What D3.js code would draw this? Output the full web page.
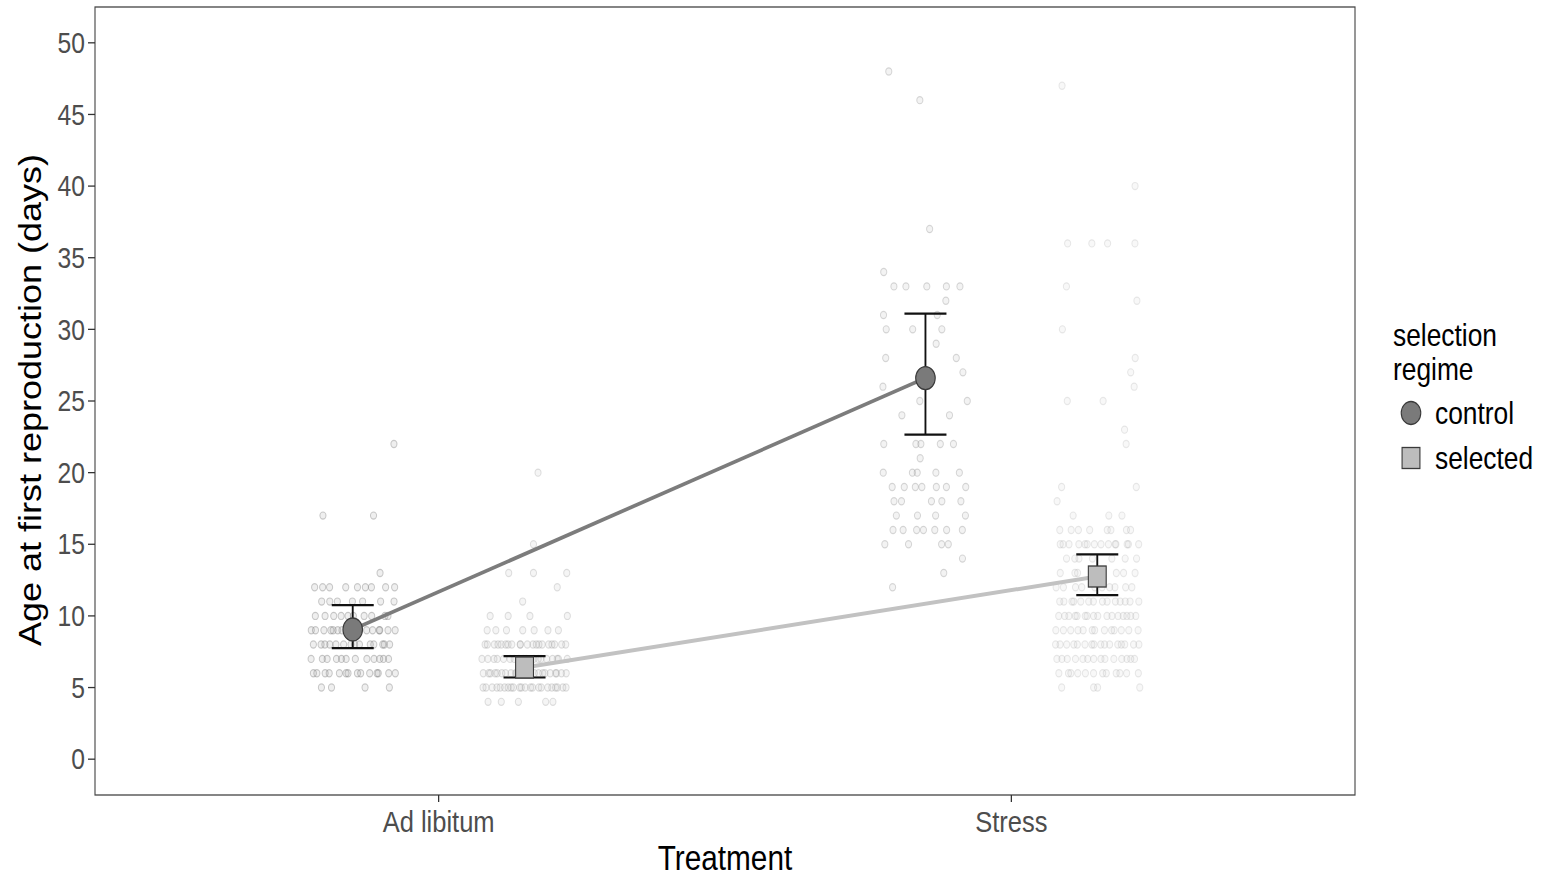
<!DOCTYPE html>
<html><head><meta charset="utf-8">
<script src="https://cdn.jsdelivr.net/npm/d3@7"></script>
<style>html,body{margin:0;padding:0;background:#fff}</style>
</head><body>
<svg id="chart" width="1543" height="879"></svg>
<script>
// ---------- data ----------
const treatments = ["Ad libitum", "Stress"];
const regimes = ["control", "selected"];
const yTicks = [0, 5, 10, 15, 20, 25, 30, 35, 40, 45, 50];

const meanControl = [9.05, 26.6];
const lowControl = [7.75, 22.65];
const highControl = [10.75, 31.1];
const meanSelected = [6.4, 12.75];
const lowSelected = [5.7, 11.45];
const highSelected = [7.2, 14.3];

// raw observations (days), [value, count]
const rawControlAdLib = [[22,1],[17,2],[13,1],[12,9],[11,7],[10,10],[9,16],[8,14],[7,12],[6,14],[5,4]];
const rawSelectedAdLib = [[20,1],[15,1],[13,3],[12,1],[11,1],[10,4],[9,7],[8,20],[7,18],[6,22],[5,22],[4,5]];
const rawControlStress = [[48,1],[46,1],[37,1],[34,1],[33,5],[32,1],[31,2],[30,3],[29,1],[28,2],[27,1],[26,1],[25,2],[24,2],[22,5],[21,1],[20,5],[19,7],[18,5],[17,4],[16,7],[15,4],[14,1],[13,1],[12,1]];
const rawSelectedStress = [[47,1],[40,1],[36,4],[33,1],[32,1],[30,1],[28,1],[27,1],[26,1],[25,2],[23,1],[22,1],[19,2],[18,1],[17,3],[16,8],[15,14],[14,7],[13,8],[12,10],[11,14],[10,16],[9,13],[8,16],[7,14],[6,12],[5,4]];

// ---------- layout ----------
const k = 0.85; // horizontal aspect of the picture
const svg = d3.select("#chart");
const g = svg.append("g").attr("transform", `scale(${k},1)`);
const L = 95 / k, R = 1355 / k, T = 7, B = 795;
const font = "'Liberation Sans', Arial, Helvetica, sans-serif";

const x = d3.scaleLinear().domain([0.4, 2.6]).range([L, R]);
const y = d3.scaleLinear().domain([-2.5, 52.5]).range([B, T]);
const dodge = 0.15, jitterW = 0.075;

// panel
g.append("rect").attr("x", L).attr("y", T).attr("width", R - L).attr("height", B - T)
  .attr("fill", "#fff").attr("stroke", "#444").attr("stroke-width", 1.3);

// y axis
const yAxis = g.append("g");
yTicks.forEach(t => {
  yAxis.append("line").attr("x1", L - 7 / k).attr("x2", L).attr("y1", y(t)).attr("y2", y(t))
    .attr("stroke", "#333").attr("stroke-width", 1.3);
  yAxis.append("text").attr("x", L - 10 / k).attr("y", y(t)).attr("dy", "0.35em")
    .attr("text-anchor", "end").attr("font-family", font).attr("font-size", 29)
    .attr("fill", "#4d4d4d").text(t);
});
// x axis
treatments.forEach((tr, i) => {
  g.append("line").attr("x1", x(i + 1)).attr("x2", x(i + 1)).attr("y1", B).attr("y2", B + 7)
    .attr("stroke", "#333").attr("stroke-width", 1.5);
  g.append("text").attr("x", x(i + 1)).attr("y", 832).attr("text-anchor", "middle")
    .attr("font-family", font).attr("font-size", 30).attr("fill", "#4d4d4d").text(tr);
});
g.append("text").attr("x", 725 / k).attr("y", 870).attr("text-anchor", "middle")
  .attr("font-family", font).attr("font-size", 35).attr("fill", "#000").text("Treatment");
g.append("text").attr("transform", `translate(${41 / k},400) rotate(-90)`).attr("text-anchor", "middle")
  .attr("font-family", font).attr("font-size", 36).attr("fill", "#000").text("Age at first reproduction (days)");

// ---------- jittered raw points ----------
function mulberry32(a) { return function () { a |= 0; a = a + 0x6D2B79F5 | 0; let t = Math.imul(a ^ a >>> 15, 1 | a); t = t + Math.imul(t ^ t >>> 7, 61 | t) ^ t; return ((t ^ t >>> 14) >>> 0) / 4294967296; }; }
const rng = mulberry32(12345);
const groups = [
  { raw: rawControlAdLib, cx: 1 - dodge, stroke: "#7a7a7a", so: 0.38, fo: 0.12 },
  { raw: rawSelectedAdLib, cx: 1 + dodge, stroke: "#a0a0a0", so: 0.32, fo: 0.1 },
  { raw: rawControlStress, cx: 2 - dodge, stroke: "#8a8a8a", so: 0.32, fo: 0.1 },
  { raw: rawSelectedStress, cx: 2 + dodge, stroke: "#aaaaaa", so: 0.26, fo: 0.08 }
];
const ptLayer = g.append("g");
groups.forEach(gr => {
  const pts = [];
  gr.raw.forEach(([v, n]) => {
    for (let i = 0; i < n; i++) {
      const off = -jitterW + 2 * jitterW * (i + rng()) / n;
      pts.push({ v, off });
    }
  });
  ptLayer.selectAll(null).data(pts).enter().append("circle")
    .attr("cx", d => x(gr.cx + d.off)).attr("cy", d => y(d.v)).attr("r", 3.6)
    .attr("fill", gr.stroke).attr("fill-opacity", gr.fo)
    .attr("stroke", gr.stroke).attr("stroke-opacity", gr.so).attr("stroke-width", 1.2);
});

// ---------- lines ----------
const line = d3.line().x(d => x(d[0])).y(d => y(d[1]));
g.append("path").attr("d", line(meanControl.map((m, i) => [i + 1 - dodge, m])))
  .attr("fill", "none").attr("stroke", "#7c7c7c").attr("stroke-width", 3.8);
g.append("path").attr("d", line(meanSelected.map((m, i) => [i + 1 + dodge, m])))
  .attr("fill", "none").attr("stroke", "#c2c2c2").attr("stroke-width", 4);

// ---------- error bars ----------
const capW = 21 / k;
function errbar(cx, lo, hi) {
  const px = x(cx);
  g.append("line").attr("x1", px).attr("x2", px).attr("y1", y(lo)).attr("y2", y(hi)).attr("stroke", "#111").attr("stroke-width", 2.2);
  [lo, hi].forEach(v => g.append("line").attr("x1", px - capW).attr("x2", px + capW).attr("y1", y(v)).attr("y2", y(v)).attr("stroke", "#111").attr("stroke-width", 2.2));
}
meanControl.forEach((m, i) => errbar(i + 1 - dodge, lowControl[i], highControl[i]));
meanSelected.forEach((m, i) => errbar(i + 1 + dodge, lowSelected[i], highSelected[i]));

// ---------- means ----------
meanControl.forEach((m, i) => {
  g.append("circle").attr("cx", x(i + 1 - dodge)).attr("cy", y(m)).attr("r", 11.5)
    .attr("fill", "#7a7a7a").attr("stroke", "#3a3a3a").attr("stroke-width", 1.3);
});
const sq = 21;
meanSelected.forEach((m, i) => {
  g.append("rect").attr("x", x(i + 1 + dodge) - sq / 2).attr("y", y(m) - sq / 2).attr("width", sq).attr("height", sq)
    .attr("fill", "#bdbdbd").attr("stroke", "#3a3a3a").attr("stroke-width", 1.3);
});

// ---------- legend ----------
const lg = g.append("g");
lg.append("text").attr("x", 1393 / k).attr("y", 346).attr("font-family", font).attr("font-size", 31).attr("fill", "#000").text("selection");
lg.append("text").attr("x", 1393 / k).attr("y", 380).attr("font-family", font).attr("font-size", 31).attr("fill", "#000").text("regime");
lg.append("circle").attr("cx", 1411 / k).attr("cy", 413).attr("r", 11.5).attr("fill", "#7a7a7a").attr("stroke", "#3a3a3a").attr("stroke-width", 1.3);
lg.append("rect").attr("x", 1411 / k - sq / 2).attr("y", 458 - sq / 2).attr("width", sq).attr("height", sq).attr("fill", "#bdbdbd").attr("stroke", "#3a3a3a").attr("stroke-width", 1.3);
lg.append("text").attr("x", 1435 / k).attr("y", 424).attr("font-family", font).attr("font-size", 31).attr("fill", "#000").text(regimes[0]);
lg.append("text").attr("x", 1435 / k).attr("y", 469).attr("font-family", font).attr("font-size", 31).attr("fill", "#000").text(regimes[1]);
</script>
</body></html>
